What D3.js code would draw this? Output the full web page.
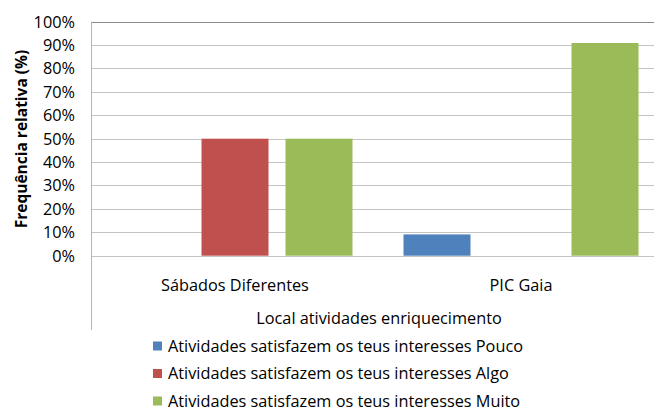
<!DOCTYPE html>
<html>
<head>
<meta charset="utf-8">
<script src="https://cdn.jsdelivr.net/npm/d3@7/dist/d3.min.js"></script>
<style>
  html, body { margin: 0; padding: 0; background: #fff; }
  svg text { font-family: "Open Sans", Lato, sans-serif; fill: #000; }
</style>
</head>
<body>
<svg id="chart" width="654" height="407"></svg>
<script>
  "use strict";
  // dados
  var categories = ["Sábados Diferentes", "PIC Gaia"];
  var seriesNames = [
    "Atividades satisfazem os teus interesses Pouco",
    "Atividades satisfazem os teus interesses Algo",
    "Atividades satisfazem os teus interesses Muito"
  ];
  var pouco = [0, 9.1];
  var algo = [50, 0];
  var muito = [50, 90.9];
  var yTicks = [0, 10, 20, 30, 40, 50, 60, 70, 80, 90, 100];
  var colors = ["#4f81bd", "#c0504d", "#9bbb59"];

  var values = [pouco, algo, muito];
  var svg = d3.select("#chart");

  var plotLeft = 92, plotRight = 664, plotTop = 21.7, plotBottom = 255.7;
  var fs = "16.3px";

  var y = d3.scaleLinear().domain([0, 100]).range([plotBottom, plotTop]);
  var x0 = d3.scaleBand().domain(categories).range([plotLeft, plotRight]).padding(0);
  var x1 = d3.scaleBand().domain(d3.range(seriesNames.length))
      .range([0, x0.bandwidth()]).paddingInner(0.2024).paddingOuter(0.3036);

  // grelha
  svg.append("g").selectAll("line")
      .data(yTicks)
      .join("line")
      .attr("x1", plotLeft).attr("x2", plotRight)
      .attr("y1", function (d) { return Math.round(y(d)) + 0.5; })
      .attr("y2", function (d) { return Math.round(y(d)) + 0.5; })
      .attr("stroke", function (d) { return d === 100 ? "#8c8c8c" : "#c4c4c4"; })
      .attr("stroke-width", 1);

  // barras
  var groups = svg.append("g").selectAll("g")
      .data(categories)
      .join("g")
      .attr("transform", function (c) { return "translate(" + x0(c) + ",0)"; });

  groups.selectAll("rect")
      .data(function (c, i) {
        return values.map(function (s, k) { return { k: k, v: s[i] }; });
      })
      .join("rect")
      .attr("x", function (d) { return x1(d.k); })
      .attr("width", x1.bandwidth())
      .attr("y", function (d) { return y(d.v); })
      .attr("height", function (d) { return y(0) - y(d.v); })
      .attr("fill", function (d) { return colors[d.k]; });

  // eixo vertical (linha)
  svg.append("line")
      .attr("x1", plotLeft - 0.5).attr("x2", plotLeft - 0.5)
      .attr("y1", plotTop).attr("y2", 330)
      .attr("stroke", "#b4b4b4");

  // rótulos do eixo y
  svg.append("g").selectAll("text")
      .data(yTicks)
      .join("text")
      .attr("x", 75)
      .attr("y", function (d) { return y(d); })
      .attr("dy", "0.36em")
      .attr("text-anchor", "end")
      .style("font-size", fs)
      .text(function (d) { return d + "%"; });

  // rótulos das categorias
  svg.append("g").selectAll("text")
      .data(categories)
      .join("text")
      .attr("x", function (c) { return x0(c) + x0.bandwidth() / 2; })
      .attr("y", 285)
      .attr("dy", "0.36em")
      .attr("text-anchor", "middle")
      .style("font-size", fs)
      .text(function (c) { return c; });

  svg.append("text")
      .attr("x", 379).attr("y", 318)
      .attr("dy", "0.36em")
      .attr("text-anchor", "middle")
      .style("font-size", fs)
      .text("Local atividades enriquecimento");

  svg.append("text")
      .attr("transform", "translate(21,139) rotate(-90)")
      .attr("dy", "0.36em")
      .attr("text-anchor", "middle")
      .style("font-size", "15.5px")
      .style("font-weight", "bold")
      .text("Frequência relativa (%)");

  // legenda
  var legend = svg.append("g").selectAll("g")
      .data(seriesNames)
      .join("g")
      .attr("transform", function (d, i) { return "translate(153," + (346 + i * 27.5) + ")"; });
  legend.append("rect")
      .attr("x", 0).attr("y", -4.5)
      .attr("width", 9).attr("height", 9)
      .attr("fill", function (d, i) { return colors[i]; });
  legend.append("text")
      .attr("x", 15).attr("y", 0)
      .attr("dy", "0.36em")
      .style("font-size", fs)
      .text(function (d) { return d; });
</script>
</body>
</html>
